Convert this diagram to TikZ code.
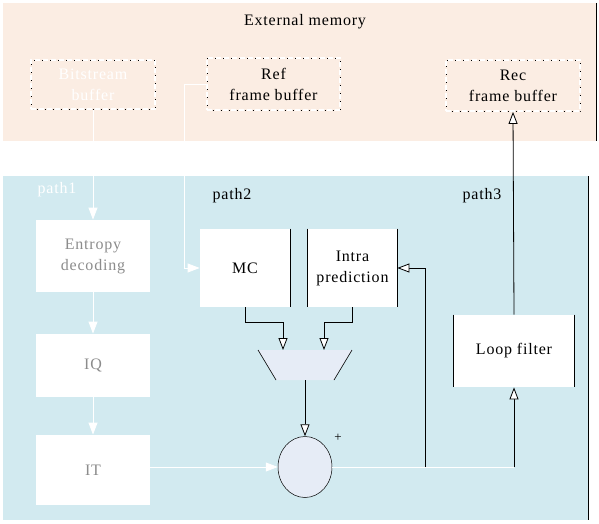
\documentclass[tikz,border=0pt]{standalone}
\usepackage{fontspec}
\setmainfont{Liberation Serif}[LetterSpace=5]
\usetikzlibrary{arrows.meta,shapes.geometric}
\definecolor{memfill}{HTML}{FBEDE3}
\definecolor{decfill}{HTML}{D2EAF0}
\definecolor{unitfill}{HTML}{E6ECF6}
\begin{document}
\begin{tikzpicture}[x=1pt,y=-1pt,line width=0.8pt,font=\fontsize{16}{21}\selectfont]
        % Styles
        \tikzstyle{block}=[fill=white,align=center,inner sep=0pt,minimum width=114pt]
        \tikzstyle{buffer}=[draw=white,dash pattern=on 5pt off 3pt,line width=1.8pt,align=center,inner sep=0pt,
            postaction={draw=black,dash pattern=on 0.8pt off 7.2pt,dash phase=-5.5pt,line width=0.6pt}]
        \tikzstyle{wline}=[white,-{Triangle[width=9pt,length=12pt,fill=white]}]
        \tikzstyle{bline}=[black,-{Triangle[width=9pt,length=12pt,fill=white]}]
        \useasboundingbox (0,0) rectangle (599,524);
        %background
        \fill[memfill] (3,3) rectangle (596,141);
        \fill[decfill] (3,176) rectangle (588,520);
        \draw (596,3) -- (596,141);
        \draw (588,176) -- (588,520);
        %external memory
        \node (mem) at (305,22) {External memory};
        \node[buffer,text=white,minimum width=124pt,minimum height=49pt] (bsb) at (93,84.5) {Bitstream\\buffer};
        \node[buffer,minimum width=133pt,minimum height=52pt] (ref) at (273.5,84) {Ref\\frame buffer};
        \node[buffer,minimum width=134pt,minimum height=51pt] (rec) at (513,85.5) {Rec\\frame buffer};
        %decoder
        \node[white] (p1) at (57,190) {path1};
        \node (p2) at (232,196) {path2};
        \node (p3) at (482,196) {path3};
        \node[block,text=black!45,minimum height=72pt] (ent) at (93,256) {Entropy\\decoding};
        \node[block,text=black!45,minimum height=63pt] (iq) at (93,365.5) {IQ};
        \node[block,text=black!45,minimum height=70pt] (it) at (93,470) {IT};
        \node[block,minimum width=90pt,minimum height=78pt] (mc) at (245,268) {MC};
        \node[block,minimum width=89pt,minimum height=78pt] (intra) at (352.5,268) {Intra\\prediction};
        \node[block,minimum width=120pt,minimum height=72pt] (lf) at (514,351) {Loop filter};
        \foreach \n in {intra,lf}
            \draw (\n.north west) -- (\n.south west) (\n.north east) -- (\n.south east);
        \draw (mc.north east) -- (mc.south east);
        %selector
        \fill[unitfill] (258,350) -- (352,350) -- (334,380) -- (276,380) -- cycle;
        \draw[line width=0.6pt] (258,350) -- (276,380) (352,350) -- (334,380);
        \coordinate (mux in1) at (283,350);
        \coordinate (mux in2) at (324,350);
        \coordinate (mux out) at (305,380);
        \node[ellipse,draw,fill=unitfill,minimum width=54pt,minimum height=61pt,line width=0.5pt] (add) at (305,467) {};
        \node[font=\fontsize{13}{13}\selectfont] (plus) at (338,438) {+};
        %connections
        \draw[wline] (bsb.south) -- (ent.north);
        \draw[wline] (ref.west) -- ++(-22,0) |- (mc.west);
        \draw[wline] (ent) -- (iq);
        \draw[wline] (iq) -- (it);
        \draw[wline] (it.east |- add) -- (add.west);
        \draw[bline] (mc.south) -- ++(0,15) -| (mux in1);
        \draw[bline] (intra.south) -- ++(0,15) -| (mux in2);
        \draw[bline] (mux out) -- (add.north);
        \coordinate (turn) at (lf.south |- add.east);
        \coordinate (br) at (425,467);
        \draw[white] (add.east) -- (turn);
        \draw[bline] (turn) -- (lf.south);
        \draw[bline] (br) |- (intra.east);
        \draw[bline] (lf.north) -- (rec.south);
\end{tikzpicture}
\end{document}
